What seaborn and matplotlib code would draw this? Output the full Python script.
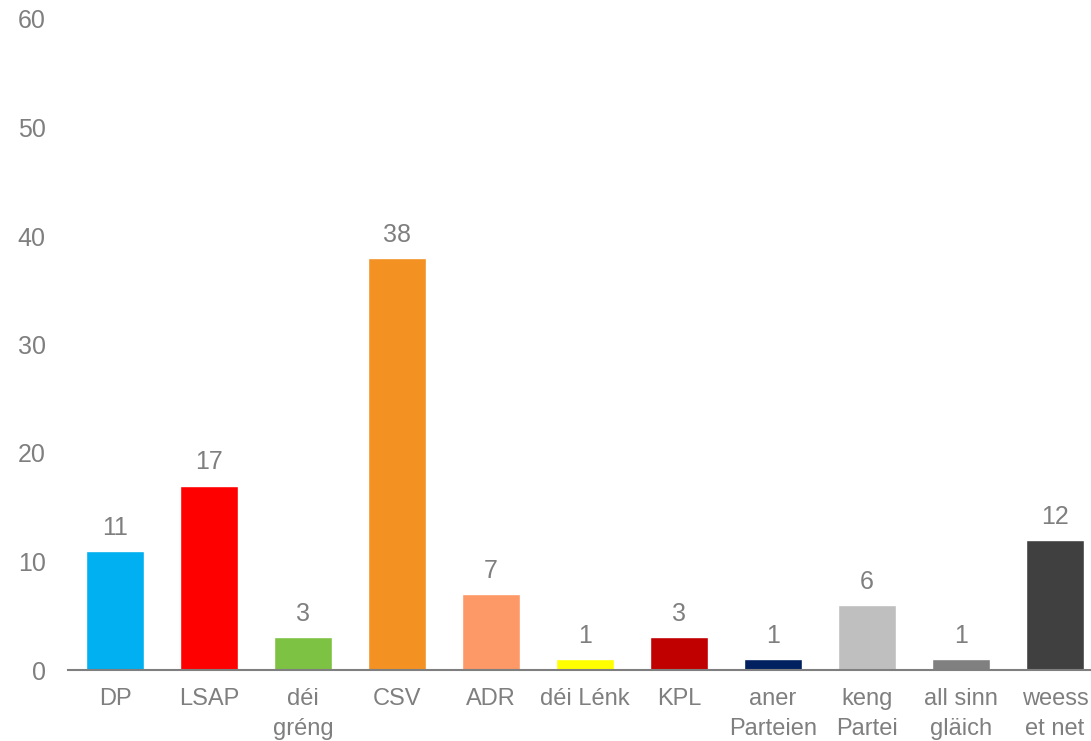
import matplotlib
matplotlib.use("Agg")
import matplotlib.pyplot as plt
import seaborn as sns
import pandas as pd

parteien = ['DP', 'LSAP', 'déi\ngréng', 'CSV', 'ADR', 'déi Lénk', 'KPL',
            'aner\nParteien', 'keng\nPartei', 'all sinn\ngläich', 'weess\net net']
werter = [11, 17, 3, 38, 7, 1, 3, 1, 6, 1, 12]
faarwen = ['#00B0F0', '#FF0000', '#7DC242', '#F39122', '#FD9966', '#FFFF00',
           '#C00000', '#002060', '#BFBFBF', '#808080', '#404040']

sns.set_theme(style='white')
plt.rcParams['font.family'] = ['Liberation Sans', 'DejaVu Sans']
grau = '#7F7F7F'

df = pd.DataFrame({'partei': parteien, 'wert': werter})

fig = plt.figure(figsize=(10.91, 7.41), dpi=100)
ax = fig.add_axes([68 / 1091, 1 - 670 / 741, (1091 - 68) / 1091, (670 - 19) / 741])

sns.barplot(data=df, x='partei', y='wert', hue='partei', palette=faarwen,
            legend=False, width=0.61, saturation=1, ax=ax)

for i, v in enumerate(werter):
    ax.annotate(str(v), (i, v), xytext=(0, 8), textcoords='offset points',
                ha='center', va='bottom', fontsize=18, color=grau)

ax.set_ylim(0, 60)
ax.set_xlim(-0.5, -0.5 + (1091 - 68) / 94)
ax.set_yticks(range(0, 61, 10))
ax.set_xlabel('')
ax.set_ylabel('')
for s in ['top', 'right', 'left']:
    ax.spines[s].set_visible(False)
ax.spines['bottom'].set_color(grau)
ax.spines['bottom'].set_linewidth(1.5)
ax.tick_params(axis='y', length=0, labelsize=18, labelcolor=grau, pad=16)
ax.tick_params(axis='x', length=0, labelsize=17, labelcolor=grau, pad=13)
for lab in ax.get_xticklabels():
    lab.set_linespacing(1.45)

fig.savefig('out.png', dpi=100)
